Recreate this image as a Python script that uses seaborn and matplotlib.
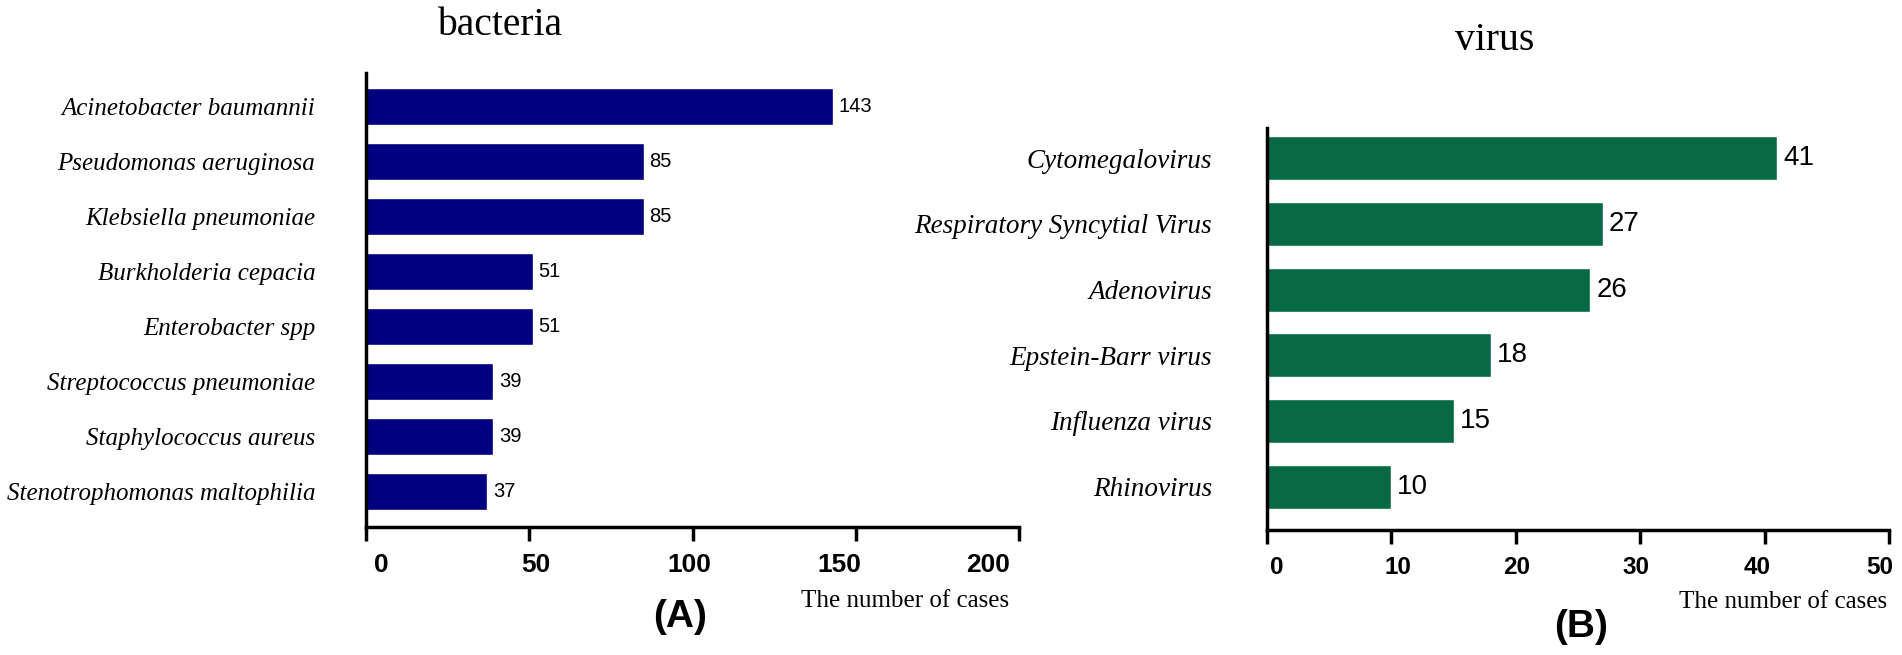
import numpy as np
import pandas as pd
import seaborn as sns
import matplotlib.pyplot as plt
from matplotlib.transforms import ScaledTranslation

sns.set_theme(style="white")
plt.rcParams["font.family"] = ["Liberation Sans", "DejaVu Sans"]
plt.rcParams.update({"text.color": "black", "axes.labelcolor": "black",
                     "xtick.color": "black", "ytick.color": "black"})

# data
bacteria = ["Acinetobacter baumannii", "Pseudomonas aeruginosa", "Klebsiella pneumoniae",
            "Burkholderia cepacia", "Enterobacter spp", "Streptococcus pneumoniae",
            "Staphylococcus aureus", "Stenotrophomonas maltophilia"]
bacteria_counts = [143, 85, 85, 51, 51, 39, 39, 37]
bacteria_ticks = [0, 50, 100, 150, 200]

virus = ["Cytomegalovirus", "Respiratory Syncytial Virus", "Adenovirus",
         "Epstein-Barr virus", "Influenza virus", "Rhinovirus"]
virus_counts = [41, 27, 26, 18, 15, 10]
virus_ticks = [0, 10, 20, 30, 40, 50]

W, H = 1902, 655
fig = plt.figure(figsize=(W / 100, H / 100), dpi=100)


def px_axes(x0, y0, x1, y1):
    return fig.add_axes([x0 / W, 1 - y1 / H, (x1 - x0) / W, (y1 - y0) / H])


def style(ax, cats, counts, ticks, color, ylim, lab_size, val_size, tick_size, ypad, shifts):
    df = pd.DataFrame({"name": cats, "n": counts})
    sns.barplot(data=df, x="n", y="name", ax=ax, color=color, saturation=1,
                width=0.67, orient="h")
    ax.bar_label(ax.containers[0], padding=4.3, fontsize=val_size,
                 family="Liberation Sans", color="black")
    ax.set_xlim(ticks[0], ticks[-1])
    ax.set_ylim(*ylim)
    ax.set_xticks(ticks)
    ax.set_xlabel("")
    ax.set_ylabel("")
    for s in ["top", "right"]:
        ax.spines[s].set_visible(False)
    for s in ["left", "bottom"]:
        ax.spines[s].set_linewidth(2.5)
        ax.spines[s].set_color("black")
    ax.tick_params(axis="x", length=10, width=2.5, pad=8.5, labelsize=tick_size,
                   direction="out", bottom=True, color="black", labelcolor="black")
    ax.tick_params(axis="y", length=0, pad=ypad, labelcolor="black")
    for t in ax.get_xticklabels():
        t.set_fontweight("bold")
    for t in ax.get_yticklabels():
        t.set_fontstyle("italic")
        t.set_family("Liberation Serif")
        t.set_fontsize(lab_size)
    # label drift as in the original export
    for t, dx in zip(ax.get_xticklabels(), shifts):
        t.set_transform(t.get_transform() + ScaledTranslation(dx / 100, 0, fig.dpi_scale_trans))


ax1 = px_axes(366, 73, 1019, 527)
style(ax1, bacteria, bacteria_counts, bacteria_ticks, "#000080", (7.645, -0.61),
      18, 14.5, 19, 36.5, [15, 7, -3, -16, -31])

ax2 = px_axes(1267, 128, 1889, 530)
style(ax2, virus, virus_counts, virus_ticks, "#076A45", (5.66, -0.46),
      19.5, 20, 17.5, 39.5, [10, 7, 1, -4, -7, -9])

serif = "Liberation Serif"
fig.text(500 / W, 1 - 35 / H, "bacteria", family=serif, fontsize=28.5, ha="center", va="baseline")
fig.text(1495 / W, 1 - 50 / H, "virus", family=serif, fontsize=28.5, ha="center", va="baseline")
fig.text(1009 / W, 1 - 601 / H, "The number of cases", family=serif, fontsize=18, ha="right", va="center")
fig.text(1887 / W, 1 - 602 / H, "The number of cases", family=serif, fontsize=18, ha="right", va="center")
fig.text(680 / W, 1 - 617 / H, "(A)", fontsize=28, fontweight="bold", ha="center", va="center")
fig.text(1581 / W, 1 - 627 / H, "(B)", fontsize=28, fontweight="bold", ha="center", va="center")

fig.savefig("out.png", dpi=100, facecolor="white")
